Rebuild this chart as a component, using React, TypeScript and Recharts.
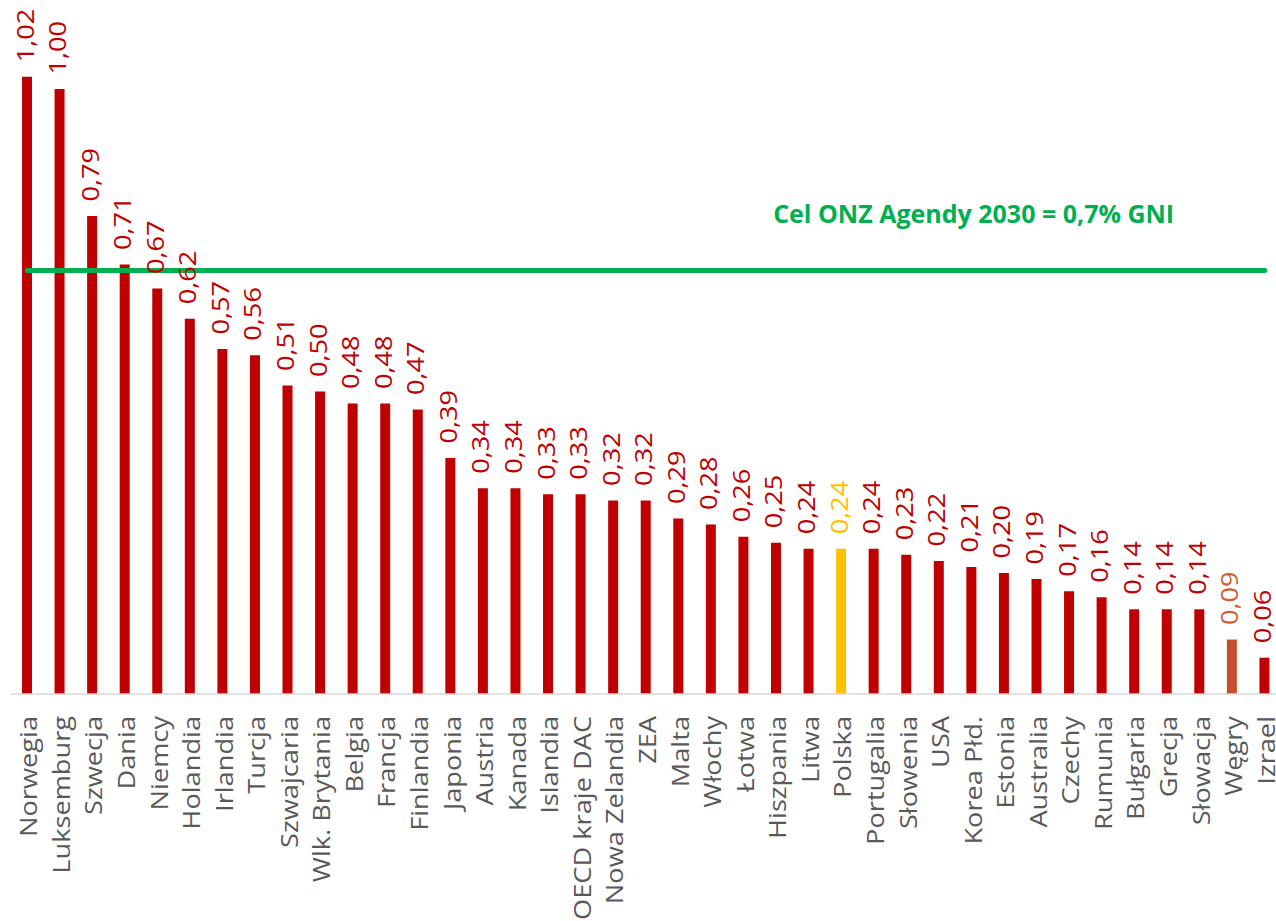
import React from 'react';
import { BarChart, Bar, XAxis, YAxis, Cell, LabelList, ReferenceLine, ReferenceDot } from 'recharts';

const categories = [
  'Norwegia', 'Luksemburg', 'Szwecja', 'Dania', 'Niemcy', 'Holandia', 'Irlandia', 'Turcja',
  'Szwajcaria', 'Wlk. Brytania', 'Belgia', 'Francja', 'Finlandia', 'Japonia', 'Austria', 'Kanada',
  'Islandia', 'OECD kraje DAC', 'Nowa Zelandia', 'ZEA', 'Malta', 'Włochy', 'Łotwa', 'Hiszpania',
  'Litwa', 'Polska', 'Portugalia', 'Słowenia', 'USA', 'Korea Płd.', 'Estonia', 'Australia',
  'Czechy', 'Rumunia', 'Bułgaria', 'Grecja', 'Słowacja', 'Węgry', 'Izrael',
];

const values = [
  1.02, 1.0, 0.79, 0.71, 0.67, 0.62, 0.57, 0.56,
  0.51, 0.5, 0.48, 0.48, 0.47, 0.39, 0.34, 0.34,
  0.33, 0.33, 0.32, 0.32, 0.29, 0.28, 0.26, 0.25,
  0.24, 0.24, 0.24, 0.23, 0.22, 0.21, 0.2, 0.19,
  0.17, 0.16, 0.14, 0.14, 0.14, 0.09, 0.06,
];

const targetValue = 0.7;
const targetLabel = 'Cel ONZ Agendy 2030 = 0,7% GNI';
const targetLabelAnchor = 'Korea Płd.';
const yDomain = [0, 1.147];

const data = categories.map((name, i) => ({ name, value: values[i] }));

const RED = '#C00000';
const FONT = "'Open Sans', 'Noto Sans', sans-serif";

const barColor = (name: string) =>
  name === 'Polska' ? '#FFC000' : name === 'Węgry' ? '#C5502A' : RED;
const labelColor = (name: string) =>
  name === 'Polska' ? '#FFC000' : name === 'Węgry' ? '#D0602F' : RED;

const fmt = (v: number) => v.toFixed(2).replace('.', ',');

const CategoryTick = (props: any) => {
  const { x, y, payload } = props;
  return (
    <g transform={`translate(${x + 10},${y + 22}) scale(1,1.11) rotate(-90)`}>
      <text x={0} y={0} textAnchor="end" fill="#595959" fontSize={24.5} fontFamily={FONT}>
        {payload.value}
      </text>
    </g>
  );
};

const ValueLabel = (props: any) => {
  const vb = props.viewBox && props.viewBox.width !== undefined ? props.viewBox : props;
  const { x, y, width } = vb;
  const idx = props.index ?? 0;
  const name = categories[idx];
  const cx = x + width / 2;
  return (
    <g transform={`translate(${cx + 6.5},${y - 14.5}) scale(1,1.15) rotate(-90)`}>
      <text x={0} y={0} textAnchor="start" fill={labelColor(name)} fontSize={23.6} fontFamily={FONT}>
        {fmt(Number(props.value))}
      </text>
    </g>
  );
};

export default function App() {
  return (
    <div
      style={{
        position: 'absolute',
        left: 0,
        top: 0,
        width: 1276,
        height: 921,
        overflow: 'hidden',
        background: '#fff',
      }}
    >
      <BarChart
        width={1281}
        height={921}
        data={data}
        margin={{ top: 0, right: 0, left: 11, bottom: 0 }}
      >
        <XAxis
          dataKey="name"
          interval={0}
          height={227}
          tickLine={false}
          tickSize={0}
          tickMargin={0}
          axisLine={{ stroke: '#D9D9D9', strokeWidth: 1.5 }}
          tick={<CategoryTick />}
        />
        <YAxis hide domain={yDomain} />
        <Bar dataKey="value" barSize={10} isAnimationActive={false}>
          {data.map((d) => (
            <Cell key={d.name} fill={barColor(d.name)} />
          ))}
          <LabelList dataKey="value" content={<ValueLabel />} />
        </Bar>
        <ReferenceLine
          segment={[
            { x: categories[0], y: targetValue },
            { x: categories[categories.length - 1], y: targetValue },
          ]}
          stroke="#00B050"
          strokeWidth={5}
          strokeLinecap="round"
        />
        <ReferenceDot
          x={targetLabelAnchor}
          y={targetValue}
          r={1}
          fill="none"
          stroke="none"
          label={{
            value: targetLabel,
            position: 'top',
            offset: 46,
            fill: '#00B050',
            fontSize: 25,
            fontWeight: 700,
            fontFamily: FONT,
            dx: 2,
          }}
        />
      </BarChart>
    </div>
  );
}
